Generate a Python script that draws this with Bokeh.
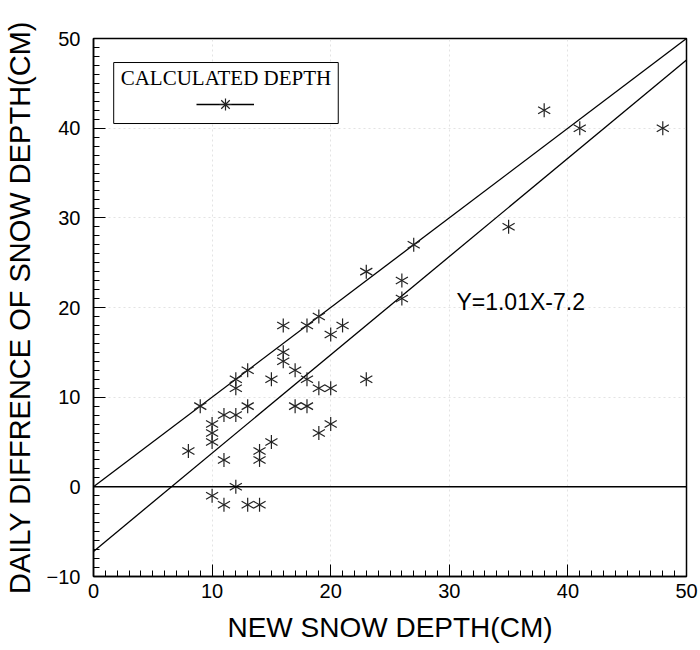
from math import pi
from bokeh.plotting import figure
from bokeh.models import ColumnDataSource, Label, Legend, LegendItem, Span, SingleIntervalTicker
from bokeh.embed import file_html
from bokeh.resources import INLINE

# ---- data ----
new_snow = [8, 9, 10, 10, 10, 10, 11, 11, 11, 12, 12, 12, 12, 13, 13, 13, 14, 14, 14,
            15, 15, 16, 16, 16, 17, 17, 18, 18, 18, 19, 19, 19, 20, 20, 20, 21, 23, 23,
            26, 26, 27, 35, 38, 41, 48]
depth_diff = [4, 9, 7, 6, 5, -1, 8, 3, -2, 12, 11, 8, 0, 13, 9, -2, 4, 3, -2,
              12, 5, 18, 15, 14, 13, 9, 18, 12, 9, 19, 11, 6, 17, 11, 7, 18, 24, 12,
              23, 21, 27, 29, 42, 40, 40]
one_to_one_x = [0, 50]
one_to_one_y = [0, 50]
fit_x = [0, 50]
fit_y = [-7.2, 47.6]
equation_text = "Y=1.01X-7.2"
legend_title = "CALCULATED DEPTH"
x_label = "NEW SNOW DEPTH(CM)"
y_label = "DAILY DIFFRENCE OF SNOW DEPTH(CM)"

SANS = "Liberation Sans"
SERIF = "Liberation Serif"

p = figure(width=700, height=650, x_range=(0, 50), y_range=(-10, 50),
           output_backend="svg", toolbar_location=None,
           min_border_left=93, min_border_right=14, min_border_top=38, min_border_bottom=74)

p.outline_line_color = "black"
p.outline_line_width = 1.5
p.background_fill_color = "white"

for ax, lab in ((p.xaxis[0], x_label), (p.yaxis[0], y_label)):
    ax.ticker = SingleIntervalTicker(interval=10, num_minor_ticks=10)
    ax.axis_label = lab
    ax.axis_label_text_font = SANS
    ax.axis_label_text_font_style = "normal"
    ax.axis_label_text_color = "black"
    ax.major_label_text_font = SANS
    ax.major_label_text_font_size = "20px"
    ax.major_label_text_color = "black"
    ax.axis_line_color = "black"
    ax.axis_line_width = 1.5
    ax.major_tick_in = 12
    ax.major_tick_out = 0
    ax.minor_tick_in = 6
    ax.minor_tick_out = 0
    ax.major_tick_line_color = "black"
    ax.minor_tick_line_color = "black"

p.xaxis.axis_label_text_font_size = "28px"
p.yaxis.axis_label_text_font_size = "29px"
p.xaxis.major_label_standoff = 7
p.xaxis.axis_label_standoff = 11
p.yaxis.major_label_standoff = 13
p.yaxis.axis_label_standoff = 8

p.grid.grid_line_color = "#d0d0d0"
p.grid.grid_line_dash = "2 3"
p.grid.grid_line_alpha = 0.6
p.xgrid.ticker = SingleIntervalTicker(interval=10)
p.ygrid.ticker = SingleIntervalTicker(interval=10)

p.add_layout(Span(location=0, dimension="width", line_color="black", line_width=1.5))

ref_r = p.line(one_to_one_x, one_to_one_y, line_color="black", line_width=1.3)
p.line(fit_x, fit_y, line_color="black", line_width=1.3)

src = ColumnDataSource(dict(x=new_snow, y=depth_diff))
for ang in (pi / 2, pi / 6, -pi / 6):
    p.scatter("x", "y", source=src, marker="dash", size=14, angle=ang,
              line_color="#222222", line_width=1.2)

# hidden renderer whose glyph is used only as the legend sample
leg_star = p.scatter("x", "y", source=src, marker="asterisk", size=14,
                     line_color="#222222", line_width=1.2, visible=False)

p.add_layout(Label(x=30.6, y=20.6, text=equation_text, text_font=SANS,
                   text_font_size="23px", text_color="black",
                   text_baseline="alphabetic", text_align="left"))

# legend box with its title
p.add_layout(Label(x=11.17, y=47.32, text=legend_title, text_font=SERIF,
                   text_font_size="21px", text_color="black",
                   text_align="center", text_baseline="top",
                   border_line_color="black", border_line_width=1,
                   background_fill_color="white",
                   padding=dict(left=7, right=7, top=3, bottom=34)))

legend = Legend(items=[LegendItem(label=" ", renderers=[ref_r, leg_star])],
                location=(103, 457), padding=0, margin=0, spacing=0,
                glyph_width=58, glyph_height=30, label_width=0, label_height=0,
                label_standoff=0, label_text_font_size="1px",
                border_line_alpha=0, background_fill_alpha=0)
p.add_layout(legend)

open("out.html", "w").write(file_html(p, INLINE))
